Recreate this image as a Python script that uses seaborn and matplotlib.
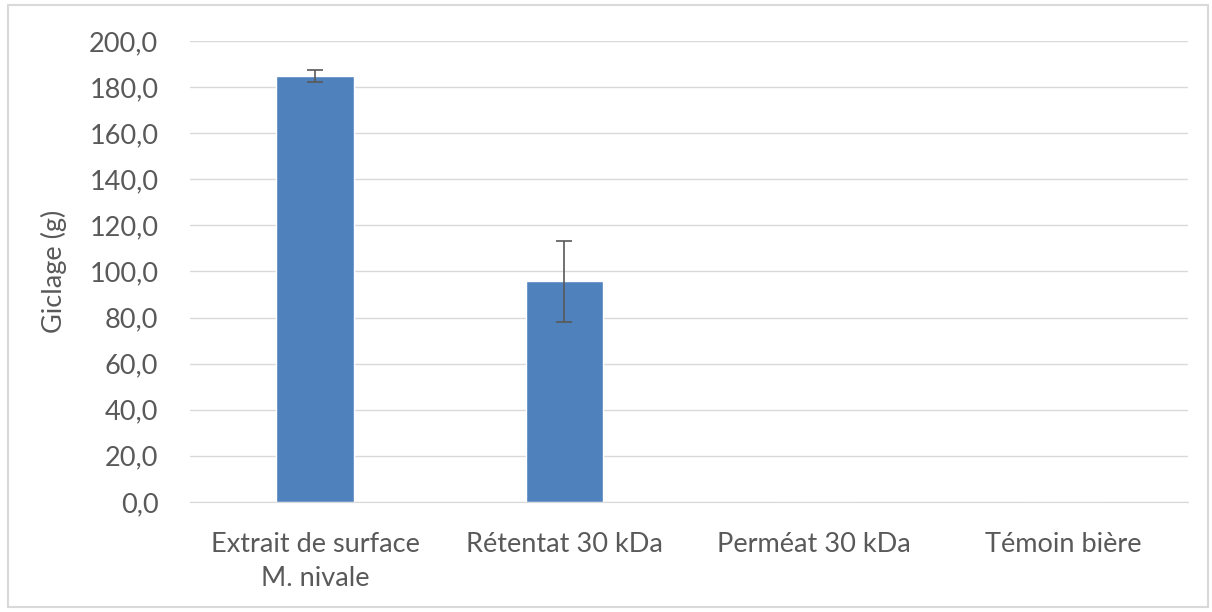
import pandas as pd
import seaborn as sns
import matplotlib.pyplot as plt
from matplotlib.patches import Rectangle
from matplotlib.ticker import FuncFormatter

categories = ["Extrait de surface\nM. nivale", "Rétentat 30 kDa", "Perméat 30 kDa", "Témoin bière"]
values = [184.8, 95.8, 0.0, 0.0]
errors = [2.5, 17.6, 0.0, 0.0]

df = pd.DataFrame({"cat": categories, "val": values})

sns.set_style("white")
plt.rcParams['font.family'] = ['Lato', 'DejaVu Sans']

fig = plt.figure(figsize=(12.12, 6.12), dpi=100)
ax = fig.add_axes([0.157, 0.18, 0.823, 0.753])

sns.barplot(data=df, x="cat", y="val", color="#4F81BD", saturation=1, width=0.31, ax=ax, zorder=2)
ax.errorbar(range(len(values)), values, yerr=[e if e > 0 else float('nan') for e in errors],
            fmt="none", ecolor="#595959", elinewidth=1.2, capsize=6, capthick=1.2, zorder=3)

ax.set_ylim(0, 200)
ax.set_xlim(-0.5, 3.5)
ax.set_yticks(range(0, 201, 20))
ax.yaxis.set_major_formatter(FuncFormatter(lambda v, p: f"{v:.1f}".replace(".", ",")))
ax.grid(axis="y", color="#D9D9D9", linewidth=1, zorder=0)
ax.set_axisbelow(True)
for s in ["top", "right", "left"]:
    ax.spines[s].set_visible(False)
ax.spines["bottom"].set_color("#D9D9D9")
ax.tick_params(axis="both", length=0, labelsize=19.5, labelcolor="#595959")
ax.tick_params(axis="x", pad=22)
ax.tick_params(axis="y", pad=23)
ax.set_xlabel("")
ax.set_ylabel("Giclage (g)", fontsize=19.5, color="#595959", labelpad=16)
for lab in ax.get_xticklabels():
    lab.set_linespacing(1.45)

fig.patches.append(Rectangle((0.007, 0.008), 0.99, 0.984, transform=fig.transFigure,
                             fill=False, edgecolor="#D9D9D9", linewidth=1.5))

plt.savefig("out.png", dpi=100)
